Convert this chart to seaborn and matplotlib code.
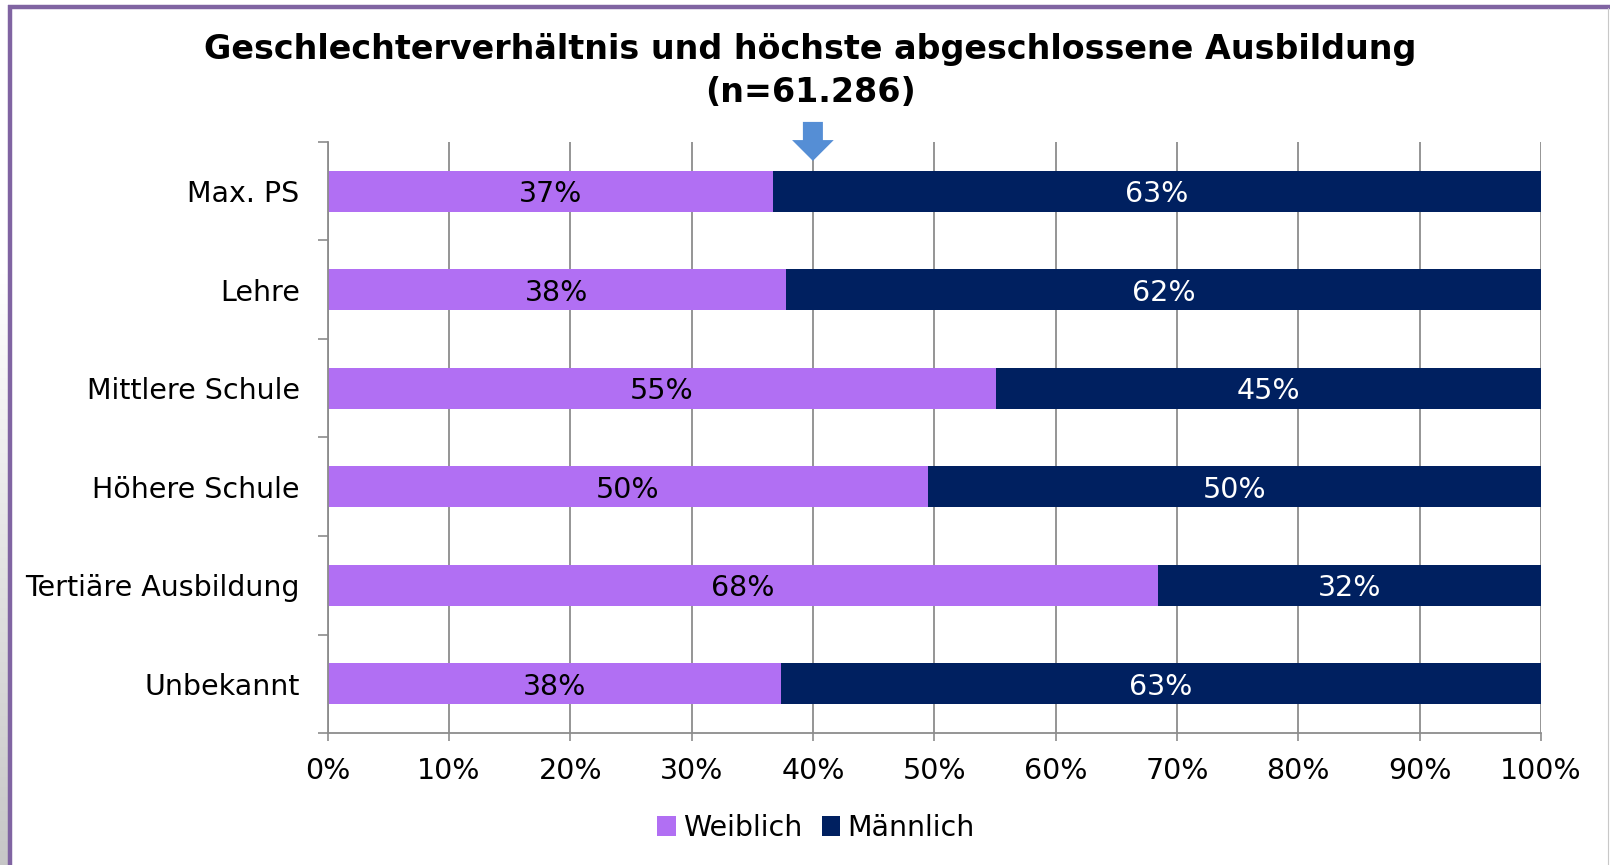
import matplotlib
matplotlib.use("Agg")
import numpy as np
import pandas as pd
import seaborn as sns
import matplotlib.pyplot as plt
import matplotlib.transforms as mtransforms
from matplotlib.patches import Patch
from matplotlib.lines import Line2D

# ---------------- data ----------------
categories = ["Max. PS", "Lehre", "Mittlere Schule", "Höhere Schule",
              "Tertiäre Ausbildung", "Unbekannt"]
weiblich = [0.367, 0.378, 0.551, 0.495, 0.684, 0.374]
maennlich = [0.633, 0.622, 0.449, 0.505, 0.316, 0.626]
labels_w = ["37%", "38%", "55%", "50%", "68%", "38%"]
labels_m = ["63%", "62%", "45%", "50%", "32%", "63%"]
xticks = [0.0, 0.1, 0.2, 0.3, 0.4, 0.5, 0.6, 0.7, 0.8, 0.9, 1.0]
xtick_labels = ["0%", "10%", "20%", "30%", "40%", "50%", "60%", "70%",
                "80%", "90%", "100%"]
marker_at = 0.40
series_names = ["Weiblich", "Männlich"]
title = "Geschlechterverhältnis und höchste abgeschlossene Ausbildung\n(n=61.286)"

PURPLE = "#B16FF3"
NAVY = "#002060"
GRID = "#8C8C8C"
ARROW = "#558ED5"
FRAME = "#8064A2"
FS = 20.5

df = pd.DataFrame({"Kategorie": categories, "Weiblich": weiblich,
                   "Männlich": maennlich})
df["Gesamt"] = df["Weiblich"] + df["Männlich"]

sns.set_theme(style="white")
plt.rcParams["font.family"] = ["DejaVu Sans"]
plt.rcParams["text.color"] = "black"
plt.rcParams["xtick.labelcolor"] = "black"
plt.rcParams["ytick.labelcolor"] = "black"

W, H = 1610, 865
fig = plt.figure(figsize=(W / 100, H / 100), dpi=100)

# background left shadow gradient
gax = fig.add_axes([0, 0, 8 / W, 1], zorder=-5)
grad = np.concatenate([np.ones(80), np.linspace(1.0, 0.78, 176)]).reshape(-1, 1)
gax.imshow(np.dstack([grad, grad, grad]), aspect="auto", extent=[0, 1, 0, 1],
           origin="upper")
gax.set_axis_off()

ax = fig.add_axes([327.5 / W, 1 - 733 / H, (1541 - 327.5) / W, (733 - 142) / H])

sns.barplot(data=df, y="Kategorie", x="Gesamt", color=NAVY, width=0.42,
            orient="h", saturation=1, linewidth=0, ax=ax, zorder=3)
sns.barplot(data=df, y="Kategorie", x="Weiblich", color=PURPLE, width=0.42,
            orient="h", saturation=1, linewidth=0, ax=ax, zorder=3)

for i, (w, m, lw, lm) in enumerate(zip(weiblich, maennlich, labels_w, labels_m)):
    ax.text(w / 2, i, lw, ha="center", va="center_baseline", fontsize=FS,
            color="black", zorder=5)
    ax.text(w + m / 2, i, lm, ha="center", va="center_baseline", fontsize=FS,
            color="white", zorder=5)

ax.set_xlim(0, 1)
ax.set_ylim(len(categories) - 0.5, -0.5)
ax.set_xticks(xticks)
ax.set_xticklabels(xtick_labels, fontsize=FS)
ax.set_yticks(range(len(categories)))
ax.set_yticklabels(categories, fontsize=FS)
ax.set_yticks(np.arange(-0.5, len(categories), 1.0), minor=True)
ax.set_xlabel("")
ax.set_ylabel("")

ax.tick_params(axis="y", which="major", length=0, pad=20)
ax.tick_params(axis="y", which="minor", length=7, width=1.2, color=GRID,
               direction="out", left=True)
ax.tick_params(axis="x", which="major", length=6, width=1.2, color=GRID,
               direction="out", bottom=True, pad=11)

ax.xaxis.grid(True, color=GRID, linewidth=1.3, zorder=0)
ax.set_axisbelow(True)
for s in ["top", "right"]:
    ax.spines[s].set_visible(False)
for s in ["left", "bottom"]:
    ax.spines[s].set_color(GRID)
    ax.spines[s].set_linewidth(1.3)
ax.spines["left"].set_zorder(4)

# arrow marker above 40%
trans = mtransforms.blended_transform_factory(ax.transData, ax.transAxes)
ax.annotate("", xy=(marker_at, 0.968), xycoords=trans,
            xytext=(marker_at, 1.034), textcoords=trans,
            arrowprops=dict(arrowstyle="simple,head_length=15,head_width=30,tail_width=14.4",
                            mutation_scale=1, color=ARROW, shrinkA=0, shrinkB=0,
                            linewidth=0),
            annotation_clip=False, zorder=6)

# title
fig.text(810 / W, 1 - 71 / H, title, ha="center", va="center",
         fontsize=24, fontweight="bold", linespacing=1.36, color="black")

# legend
handles = [Patch(facecolor=PURPLE, edgecolor="none"),
           Patch(facecolor=NAVY, edgecolor="none")]
fig.legend(handles, series_names, loc="center", bbox_to_anchor=(816 / W, 1 - 828 / H),
           ncol=2, frameon=False, fontsize=FS, handlelength=0.65, handleheight=0.65,
           handletextpad=0.25, columnspacing=0.7, labelcolor="black")

# chart frame
fig.add_artist(Line2D([8 / W, 1], [1 - 6.5 / H, 1 - 6.5 / H], transform=fig.transFigure,
                      color=FRAME, linewidth=3.2, solid_capstyle="butt"))
fig.add_artist(Line2D([10 / W, 10 / W], [0, 1 - 5 / H], transform=fig.transFigure,
                      color=FRAME, linewidth=3.2, solid_capstyle="butt"))
fig.add_artist(Line2D([1607.5 / W, 1607.5 / W], [0, 1 - 8 / H], transform=fig.transFigure,
                      color="#C8C8C8", linewidth=0.8))

fig.savefig("out.png", dpi=100)
